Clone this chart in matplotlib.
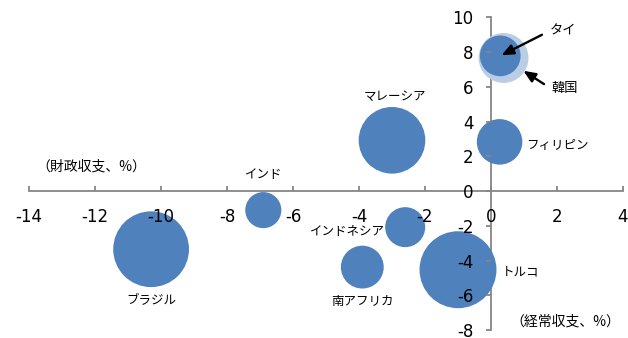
import numpy as np
import matplotlib
matplotlib.use("Agg")
import matplotlib.pyplot as plt

plt.rcParams["axes.unicode_minus"] = False
plt.rcParams["font.family"] = ["DejaVu Sans"]
JP = ["Noto Sans CJK JP", "DejaVu Sans"]

# Current account balance (% of GDP), fiscal balance (% of GDP), bubble size
countries = ["ブラジル", "インド", "マレーシア", "インドネシア", "南アフリカ",
             "トルコ", "フィリピン", "韓国", "タイ"]
current_account = [-10.3, -6.9, -3.0, -2.6, -3.9, -1.0, 0.26, 0.38, 0.28]
fiscal_balance = [-3.35, -1.10, 2.92, -2.08, -4.38, -4.53, 2.83, 7.66, 7.78]
bubble_size = [97, 22, 75, 27, 31, 100, 35, 42, 28]

x_ticks = list(range(-14, 5, 2))
y_ticks = list(range(-8, 11, 2))

blue = "#4F81BD"
light_blue = "#B9CDE5"
axis_grey = "#868686"

fig = plt.figure(figsize=(6.28, 3.38), dpi=100)
ax = fig.add_axes([29 / 628, 8 / 338, 594 / 628, 312.7 / 338])

ax.set_xlim(-14, 4)
ax.set_ylim(-8, 10)

# bubble area proportional to size; largest bubble ~55pt across
max_d = 55.4
s = np.array(bubble_size) / max(bubble_size) * max_d ** 2
colors = [light_blue if c == "韓国" else blue for c in countries]
ax.scatter(current_account, fiscal_balance, s=s, c=colors, linewidths=0, zorder=2)

# axes cross at the origin
for side in ["top", "right"]:
    ax.spines[side].set_visible(False)
ax.spines["bottom"].set_position(("data", 0))
ax.spines["left"].set_position(("data", 0))
for side in ["bottom", "left"]:
    ax.spines[side].set_color(axis_grey)
    ax.spines[side].set_linewidth(1.3)
    ax.spines[side].set_zorder(1)
ax.xaxis.set_zorder(3)
ax.yaxis.set_zorder(3)

ax.set_xticks(x_ticks)
ax.set_yticks(y_ticks)
ax.set_xticklabels([str(v) for v in x_ticks])
ax.set_yticklabels([str(v) for v in y_ticks])
ax.tick_params(axis="x", direction="in", length=3.5, width=1.3, color=axis_grey,
               labelsize=12, pad=12)
ax.tick_params(axis="y", direction="out", length=3.5, width=1.3, color=axis_grey,
               labelsize=12, pad=9)

# country labels (offsets in points from each bubble)
label_pos = {
    "ブラジル": ((0, -37.2), "center"),
    "インド": ((0, 25.8), "center"),
    "マレーシア": ((2, 31.7), "center"),
    "インドネシア": ((-14.6, -3.4), "right"),
    "南アフリカ": ((0, -24.8), "center"),
    "トルコ": ((31.5, -1.4), "left"),
    "フィリピン": ((19.2, -2.6), "left"),
}
for name, x, y in zip(countries, current_account, fiscal_balance):
    if name in label_pos:
        (dx, dy), ha = label_pos[name]
        ax.annotate(name, (x, y), xytext=(dx, dy), textcoords="offset points",
                    ha=ha, va="center", fontsize=9, family=JP, zorder=4)

arrow = dict(arrowstyle="-|>,head_length=0.75,head_width=0.32", color="black",
             lw=1.7, shrinkA=4)
i_th = countries.index("タイ")
ax.annotate("タイ", (current_account[i_th], fiscal_balance[i_th]),
            xytext=(35.6, 18), textcoords="offset points", ha="left", va="center",
            fontsize=9.5, family=JP, zorder=4,
            arrowprops=dict(arrow, relpos=(0, 0.5), shrinkB=1))
i_kr = countries.index("韓国")
ax.annotate("韓国", (current_account[i_kr], fiscal_balance[i_kr]),
            xytext=(34.5, -22.3), textcoords="offset points", ha="left", va="center",
            fontsize=9.5, family=JP, zorder=4,
            arrowprops=dict(arrow, relpos=(0, 0.5), shrinkB=17))

# axis titles
fig.text(91 / 628, 1 - 166.7 / 338, "（財政収支、%）", ha="center", va="center",
         fontsize=10, family=JP)
fig.text(565.8 / 628, 1 - 321.7 / 338, "（経常収支、%）", ha="center", va="center",
         fontsize=10, family=JP)

fig.savefig("out.png", dpi=100)
